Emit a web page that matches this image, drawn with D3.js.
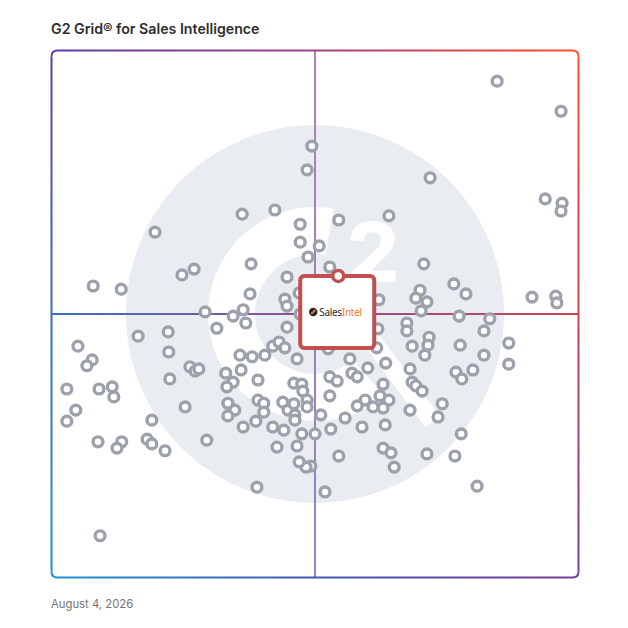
<!DOCTYPE html>
<html>
<head>
<meta charset="utf-8">
<script src="https://cdn.jsdelivr.net/npm/d3@7/dist/d3.min.js"></script>
<style>
  html, body { margin: 0; padding: 0; background: #fff; }
  svg { display: block; }
</style>
</head>
<body>
<svg id="chart" width="628" height="628"></svg>
<script>
// ---- data (satisfaction = x, market presence = y, both 0-100) ----
const title = "G2 Grid\u00AE for Sales Intelligence";
const dateLabel = "August 4, 2026";
const highlightName = ["Sales", "Intel"];
const highlight = { satisfaction: 54.4, presence: 57.2 };

const satisfaction = [
  84.5, 96.6, 71.8, 93.6, 96.8, 96.6, 49.4, 48.5, 36.2, 42.4,
  47.2, 54.5, 64.0, 47.2, 50.8, 48.7, 19.7, 37.9, 52.8, 44.7,
  70.6, 24.8, 27.1, 8.0, 13.3, 37.7, 44.3, 44.7, 47.0, 62.1,
  69.9, 69.1, 71.2, 76.3, 78.6, 91.1, 95.6, 95.8, 70.1, 77.3,
  83.1, 67.4, 67.4, 29.2, 34.5, 36.4, 36.9, 31.4, 44.7, 47.2,
  71.6, 71.4, 70.8, 68.4, 77.5, 82.0, 86.7, 82.0, 86.7, 76.7,
  77.8, 79.9, 61.9, 61.7, 52.5, 56.6, 60.0, 63.4, 57.0, 58.0,
  52.8, 54.2, 68.0, 68.4, 69.1, 70.3, 62.9, 62.3, 64.0, 62.9,
  61.0, 59.5, 58.0, 52.8, 55.7, 51.1, 50.0, 53.0, 58.9, 63.3,
  68.0, 74.1, 73.3, 77.7, 54.5, 62.9, 64.4, 65.0, 71.2, 76.5,
  80.7, 51.9, 49.2, 48.3, 47.0, 5.1, 7.8, 6.8, 16.5, 22.2,
  22.3, 22.5, 26.3, 27.3, 28.0, 35.8, 38.1, 40.5, 42.0, 43.2,
  44.3, 46.6, 33.1, 36.0, 34.5, 33.3, 39.2, 46.0, 47.5, 47.7,
  3.0, 9.1, 11.6, 11.9, 4.7, 3.0, 19.1, 25.4, 33.5, 34.8,
  33.5, 39.2, 40.3, 40.3, 38.8, 36.4, 43.9, 44.9, 46.0, 48.5,
  48.5, 46.2, 46.2, 42.0, 44.1, 47.5, 8.9, 13.4, 12.5, 18.2,
  19.1, 21.6, 29.5, 42.8, 46.6, 39.0, 9.3
];
const marketPresence = [
  94.1, 88.4, 75.8, 71.8, 71.0, 69.5, 81.8, 77.3, 68.9, 69.7,
  67.0, 67.8, 68.6, 63.6, 62.9, 60.8, 65.5, 59.5, 58.9, 57.0,
  59.5, 57.4, 58.5, 55.3, 54.7, 53.8, 52.8, 51.5, 54.0, 52.7,
  54.5, 53.0, 52.3, 55.7, 53.8, 53.2, 53.4, 52.1, 50.6, 49.6,
  49.1, 48.3, 46.8, 50.4, 49.6, 50.8, 48.3, 47.3, 47.5, 50.0,
  45.6, 44.1, 42.2, 43.9, 44.1, 46.8, 44.5, 42.2, 40.5, 39.0,
  37.7, 39.4, 47.2, 43.6, 43.4, 41.5, 39.8, 40.7, 38.8, 38.1,
  38.1, 37.3, 39.6, 37.1, 36.4, 35.4, 36.7, 34.5, 33.7, 32.2,
  32.4, 33.7, 32.6, 34.5, 30.3, 30.9, 27.3, 28.2, 28.6, 29.0,
  31.8, 33.0, 30.5, 27.3, 23.1, 24.6, 23.7, 21.0, 23.5, 23.1,
  17.4, 16.3, 21.2, 21.0, 22.0, 43.9, 41.3, 40.2, 45.8, 46.6,
  42.8, 37.7, 40.0, 39.2, 39.6, 42.2, 41.9, 42.2, 43.9, 44.7,
  43.6, 41.5, 38.8, 39.4, 37.1, 36.2, 37.5, 36.9, 36.7, 35.4,
  35.8, 35.8, 36.2, 34.3, 31.8, 29.7, 29.9, 32.4, 33.1, 31.8,
  30.7, 33.7, 33.1, 31.4, 29.7, 28.6, 33.3, 31.8, 33.0, 33.7,
  32.4, 30.9, 29.9, 28.6, 28.0, 27.3, 25.8, 25.8, 24.6, 26.3,
  25.4, 24.1, 26.1, 24.8, 25.0, 17.2, 8.0
];

// ---- layout ----
const svg = d3.select("#chart");
const plot = { left: 51, top: 50, right: 579, bottom: 578 };
const x = d3.scaleLinear().domain([0, 100]).range([plot.left, plot.right]);
const y = d3.scaleLinear().domain([0, 100]).range([plot.bottom, plot.top]);

const defs = svg.append("defs");
function grad(id, x1, y1, x2, y2, stops) {
  const g = defs.append("linearGradient").attr("id", id)
    .attr("gradientUnits", "userSpaceOnUse")
    .attr("x1", x1).attr("y1", y1).attr("x2", x2).attr("y2", y2);
  stops.forEach(([o, c]) => g.append("stop").attr("offset", o).attr("stop-color", c));
}
const cTL = "#5a3ea8", cTR = "#ff5127", cBL = "#1b93d9", cBR = "#7b3a9f";
grad("gTop", plot.left, 0, plot.right, 0, [[0, cTL], [0.5, "#a2437f"], [1, cTR]]);
grad("gBottom", plot.left, 0, plot.right, 0, [[0, cBL], [0.5, "#4358b3"], [1, cBR]]);
grad("gLeft", 0, plot.top, 0, plot.bottom, [[0, cTL], [0.5, "#3c6cc0"], [1, cBL]]);
grad("gRight", 0, plot.top, 0, plot.bottom, [[0, cTR], [0.5, "#cb4352"], [1, cBR]]);
grad("gH", plot.left, 0, plot.right, 0, [[0, "#3b6fc4"], [0.5, "#8f4f95"], [1, "#c9444f"]]);
grad("gV", 0, plot.top, 0, plot.bottom, [[0, "#b27fb0"], [0.5, "#a17fb8"], [1, "#8b86c8"]]);

// ---- title & date ----
svg.append("text").attr("x", plot.left).attr("y", 34)
  .attr("font-family", "Inter, 'Noto Sans', sans-serif").attr("font-weight", 600)
  .attr("font-size", 14.2).attr("fill", "#2d2d2d").text(title);
svg.append("text").attr("x", plot.left).attr("y", 608)
  .attr("font-family", "Inter, 'Noto Sans', sans-serif")
  .attr("font-size", 11.3).attr("fill", "#747474").text(dateLabel);

// ---- G2 watermark ----
const cx = x(50), cy = y(50);
const wm = svg.append("g").attr("transform", `translate(${cx},${cy})`);
wm.append("circle").attr("r", 189).attr("fill", "#e9ecf0");
wm.append("path")
  .attr("d", d3.arc().innerRadius(60).outerRadius(107)
    .startAngle(140 * Math.PI / 180).endAngle(370 * Math.PI / 180)())
  .attr("fill", "#fff");
wm.append("line")
  .attr("x1", 52).attr("y1", 20).attr("x2", 118).attr("y2", 108)
  .attr("stroke", "#fff").attr("stroke-width", 18);
wm.append("text").attr("x", 32).attr("y", -32)
  .attr("font-family", "Inter, 'DejaVu Sans', sans-serif").attr("font-weight", 800)
  .attr("font-size", 82).attr("fill", "#fff").text("2");

// ---- center lines ----
svg.append("line").attr("x1", plot.left).attr("x2", plot.right)
  .attr("y1", y(50)).attr("y2", y(50)).attr("stroke", "url(#gH)").attr("stroke-width", 2);
svg.append("line").attr("x1", x(50)).attr("x2", x(50))
  .attr("y1", plot.top).attr("y2", plot.bottom).attr("stroke", "url(#gV)").attr("stroke-width", 2);

// ---- border (rounded, gradient per side) ----
const r = 6, L = plot.left + 0.5, T = plot.top + 0.5, R = plot.right - 0.5, B = plot.bottom - 0.5;
const border = svg.append("g").attr("fill", "none").attr("stroke-width", 2);
border.append("path").attr("stroke", "url(#gTop)")
  .attr("d", `M${L},${T + r} Q${L},${T} ${L + r},${T} L${R - r},${T} Q${R},${T} ${R},${T + r}`);
border.append("path").attr("stroke", "url(#gRight)")
  .attr("d", `M${R},${T + r} L${R},${B - r}`);
border.append("path").attr("stroke", "url(#gBottom)")
  .attr("d", `M${L},${B - r} Q${L},${B} ${L + r},${B} L${R - r},${B} Q${R},${B} ${R},${B - r}`);
border.append("path").attr("stroke", "url(#gLeft)")
  .attr("d", `M${L},${T + r} L${L},${B - r}`);

// ---- points ----
const pts = satisfaction.map((s, i) => ({ s, p: marketPresence[i] }));
svg.append("g").selectAll("circle").data(pts).join("circle")
  .attr("cx", d => x(d.s)).attr("cy", d => y(d.p)).attr("r", 4.9)
  .attr("fill", "#fff").attr("stroke", "#9ca1ac").attr("stroke-width", 3.4);

// ---- highlighted product ----
const hx = x(highlight.satisfaction), hy = y(highlight.presence);
const hg = svg.append("g");
hg.append("rect").attr("x", hx - 38).attr("y", hy).attr("width", 74).attr("height", 72)
  .attr("rx", 4).attr("fill", "#fff").attr("stroke", "#c0504f").attr("stroke-width", 4);
hg.append("circle").attr("cx", hx).attr("cy", hy).attr("r", 5.5)
  .attr("fill", "#fff").attr("stroke", "#c0504f").attr("stroke-width", 3.5);
const lg = hg.append("g").attr("transform", `translate(${hx - 25},${hy + 36})`);
lg.append("circle").attr("r", 4.2).attr("fill", "#24242c");
lg.append("path").attr("d", "M-2,2 L2.2,-2.2").attr("stroke", "#f47b20").attr("stroke-width", 1.8);
const t = lg.append("text").attr("x", 6).attr("y", 3.6)
  .attr("font-family", "'Noto Sans', Inter, sans-serif").attr("font-size", 10).attr("letter-spacing", -0.3);
t.append("tspan").attr("fill", "#2a2a33").text(highlightName[0]);
t.append("tspan").attr("fill", "#f47b20").text(highlightName[1]);
</script>
</body>
</html>
